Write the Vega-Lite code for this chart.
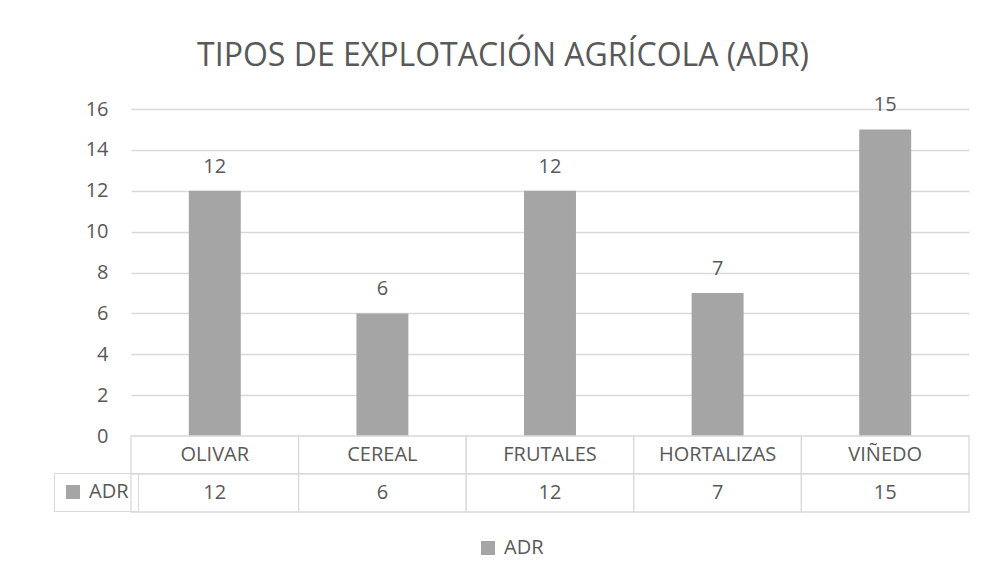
{
  "$schema": "https://vega.github.io/schema/vega-lite/v6.json",
  "background": "white",
  "autosize": {"type": "pad"},
  "padding": {"left": 53, "top": 40, "right": 5, "bottom": 60},
  "bounds": "flush",
  "config": {
    "font": "Open Sans",
    "view": {"stroke": null},
    "concat": {"spacing": 0}
  },
  "datasets": {
    "adr": [
      {"tipo": "OLIVAR", "ADR": 12},
      {"tipo": "CEREAL", "ADR": 6},
      {"tipo": "FRUTALES", "ADR": 12},
      {"tipo": "HORTALIZAS", "ADR": 7},
      {"tipo": "VIÑEDO", "ADR": 15}
    ]
  },
  "resolve": {"scale": {"color": "independent"}, "legend": {"color": "independent"}},
  "vconcat": [
    {
      "width": 838,
      "height": 327,
      "title": {
        "text": "TIPOS DE EXPLOTACIÓN AGRÍCOLA (ADR)",
        "font": "Open Sans",
        "fontSize": 32,
        "fontWeight": "normal",
        "color": "#595959",
        "anchor": "middle",
        "dx": -47,
        "offset": 22
      },
      "data": {"name": "adr"},
      "encoding": {
        "x": {
          "field": "tipo",
          "type": "nominal",
          "sort": null,
          "axis": null,
          "scale": {"paddingInner": 0.69, "paddingOuter": 0.345}
        }
      },
      "layer": [
        {
          "mark": {"type": "bar"},
          "encoding": {
            "y": {
              "field": "ADR",
              "type": "quantitative",
              "scale": {"domain": [0, 16]},
              "axis": {
                "values": [0, 2, 4, 6, 8, 10, 12, 14, 16],
                "title": null,
                "domain": false,
                "ticks": false,
                "labelFont": "Open Sans",
                "labelFontSize": 20,
                "labelColor": "#595959",
                "labelPadding": 23,
                "gridColor": "#d9d9d9",
                "gridWidth": 1.3
              }
            },
            "color": {
              "datum": "ADR",
              "type": "nominal",
              "scale": {"range": ["#A5A5A5"]},
              "legend": {
                "orient": "none",
                "legendX": 347,
                "legendY": 429,
                "title": null,
                "padding": 0,
                "symbolType": "square",
                "symbolSize": 196,
                "symbolStrokeWidth": 0,
                "labelFont": "Open Sans",
                "labelFontSize": 20,
                "labelColor": "#595959",
                "labelOffset": 6
              }
            }
          }
        },
        {
          "mark": {
            "type": "text",
            "baseline": "alphabetic",
            "dy": -18,
            "font": "Open Sans",
            "fontSize": 20,
            "color": "#595959"
          },
          "encoding": {
            "y": {"field": "ADR", "type": "quantitative"},
            "text": {"field": "ADR", "type": "quantitative"}
          }
        }
      ]
    },
    {
      "width": 838,
      "height": 76,
      "data": {"name": "adr"},
      "encoding": {
        "x": {
          "field": "tipo",
          "type": "nominal",
          "sort": null,
          "axis": null,
          "scale": {"paddingInner": 0, "paddingOuter": 0}
        }
      },
      "layer": [
        {
          "mark": {"type": "rect", "fill": "white", "stroke": "#d9d9d9", "strokeWidth": 1.3},
          "encoding": {
            "y": {
              "datum": "cat",
              "type": "nominal",
              "scale": {"domain": ["cat", "val"], "paddingInner": 0, "paddingOuter": 0},
              "axis": null
            }
          }
        },
        {
          "mark": {"type": "rect", "fill": "white", "stroke": "#d9d9d9", "strokeWidth": 1.3},
          "encoding": {"y": {"datum": "val", "type": "nominal"}}
        },
        {
          "mark": {"type": "text", "font": "Open Sans", "fontSize": 20, "color": "#595959"},
          "encoding": {
            "y": {"datum": "cat", "type": "nominal"},
            "text": {"field": "tipo", "type": "nominal"}
          }
        },
        {
          "mark": {"type": "text", "font": "Open Sans", "fontSize": 20, "color": "#595959"},
          "encoding": {
            "y": {"datum": "val", "type": "nominal"},
            "text": {"field": "ADR", "type": "quantitative"}
          }
        },
        {
          "mark": {"type": "point", "shape": "square", "filled": true, "opacity": 0},
          "encoding": {
            "y": {"datum": "val", "type": "nominal"},
            "color": {
              "datum": "ADR",
              "type": "nominal",
              "scale": {"range": ["#A5A5A5"]},
              "legend": {
                "orient": "none",
                "legendX": -77,
                "legendY": 37,
                "title": null,
                "padding": 9,
                "strokeColor": "#d9d9d9",
                "symbolType": "square",
                "symbolSize": 196,
                "symbolStrokeWidth": 0,
                "symbolOpacity": 1,
                "labelFont": "Open Sans",
                "labelFontSize": 20,
                "labelColor": "#595959",
                "labelOffset": 6,
                "encode": {"symbols": {"update": {"opacity": {"value": 1}, "fill": {"value": "#A5A5A5"}}}}
              }
            }
          }
        }
      ]
    }
  ]
}
